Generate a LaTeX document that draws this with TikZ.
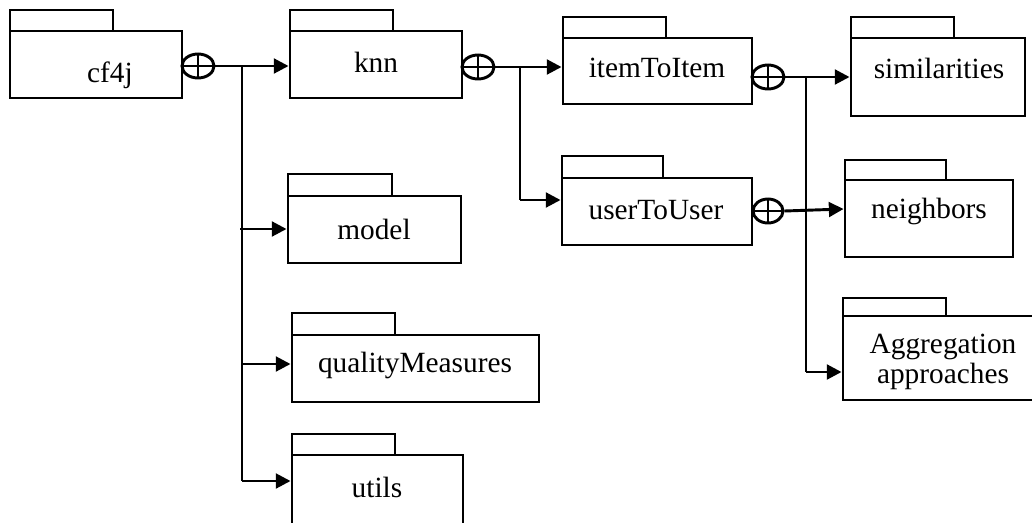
\documentclass[tikz,border=0pt]{standalone}
\usepackage{fontspec}
\setmainfont{Liberation Serif}
\usetikzlibrary{arrows.meta,shapes.geometric}
\tikzset{
  ln/.style={line width=2.2pt},
  pkgbody/.style={draw, line width=2.2pt, rectangle, inner sep=0pt, fill=white},
  pkgtab/.style={draw, line width=2.2pt},
  lbl/.style={inner sep=0pt, font=\fontsize{22}{23}\selectfont, align=center},
  opnode/.style={draw, line width=2.2pt, ellipse, inner sep=0pt, minimum width=24pt, minimum height=18pt},
  arr/.style={line width=2.2pt, -{Triangle[length=11pt,width=11pt]}},
}
\newcommand\pkg[7]{%
  \draw[pkgtab] (#2,#7) rectangle (#6,#3);
  \node[pkgbody, minimum width={(#4-#2)*0.75pt}, minimum height={(#5-#3)*0.75pt}] (#1) at ({(#2+#4)/2},{(#3+#5)/2}) {};
}
\newcommand\opplus[4]{% name, x, y, rx
  \node[opnode, minimum width={2*#4*0.75pt}] (#1) at (#2,#3) {};
  \draw[ln] (#1.north) -- (#1.south);
  \draw[ln] (#1.west) -- (#1.east);
}
\begin{document}
\begin{tikzpicture}[x=0.75pt,y=-0.75pt]
\useasboundingbox (0,0) rectangle (1032,522);
\clip (0,0) rectangle (1032,522);
\fill[white] (0,0) rectangle (1032,522);
% packages
\pkg{cf4j}{10}{31}{182}{98}{113}{10}
\pkg{knn}{290}{31}{462}{98}{393}{10}
\pkg{item}{563}{38}{752}{104}{666}{17}
\pkg{sim}{851}{38}{1025}{116}{954}{17}
\pkg{user}{562}{178}{752}{245}{663}{156}
\pkg{neigh}{845}{180}{1013}{257}{946}{160}
\pkg{aggr}{843}{316}{1050}{400}{946}{298}
\pkg{model}{288}{196}{461}{263}{392}{174}
\pkg{qual}{292}{335}{539}{402}{395}{313}
\pkg{utils}{292}{455}{463}{545}{395}{434}
% labels
\node[lbl] (tcf4j) at (110,75) {cf4j};
\node[lbl] (tknn) at (376,62) {knn};
\node[lbl] (titem) at (657,68) {itemToItem};
\node[lbl] (tsim) at (939,68) {similarities};
\node[lbl] (tuser) at (656,210) {userToUser};
\node[lbl] (tneigh) at (929,211) {neighbors};
\node[lbl] (taggr) at (943,362) {Aggregation\\approaches};
\node[lbl] (tmodel) at (374,229) {model};
\node[lbl] (tqual) at (415,365) {qualityMeasures};
\node[lbl] (tutils) at (377,487) {utils};
% containment symbols
\opplus{op1}{198}{66}{16}
\opplus{op2}{478}{67}{16}
\opplus{op3}{768}{77}{16}
\opplus{op4}{768}{211}{15}
% connectors
\coordinate (b1) at (242,66);
\coordinate (b1s) at (242,481);
\coordinate (b1m) at (240,229);
\coordinate (b1q) at (242,364);
\coordinate (b2) at (520,67);
\coordinate (b2s) at (520,200);
\coordinate (b3) at (806,77);
\coordinate (b3s) at (806,372);
\coordinate (n4) at (845,209);
\draw[arr] (op1.east) -- (knn.west |- op1.east);
\draw[ln] (b1) -- (b1s);
\draw[arr] (b1m) -- (model.west |- b1m);
\draw[arr] (b1q) -- (qual.west |- b1q);
\draw[arr] (b1s) -- (utils.west |- b1s);
\draw[arr] (op2.east) -- (item.west |- op2.east);
\draw[ln] (b2) -- (b2s);
\draw[arr] (b2s) -- (user.west |- b2s);
\draw[arr] (op3.east) -- (sim.west |- op3.east);
\draw[ln] (b3) -- (b3s);
\draw[arr] (b3s) -- (aggr.west |- b3s);
\draw[arr] (op4.east) -- (neigh.west |- n4);
\end{tikzpicture}
\end{document}
